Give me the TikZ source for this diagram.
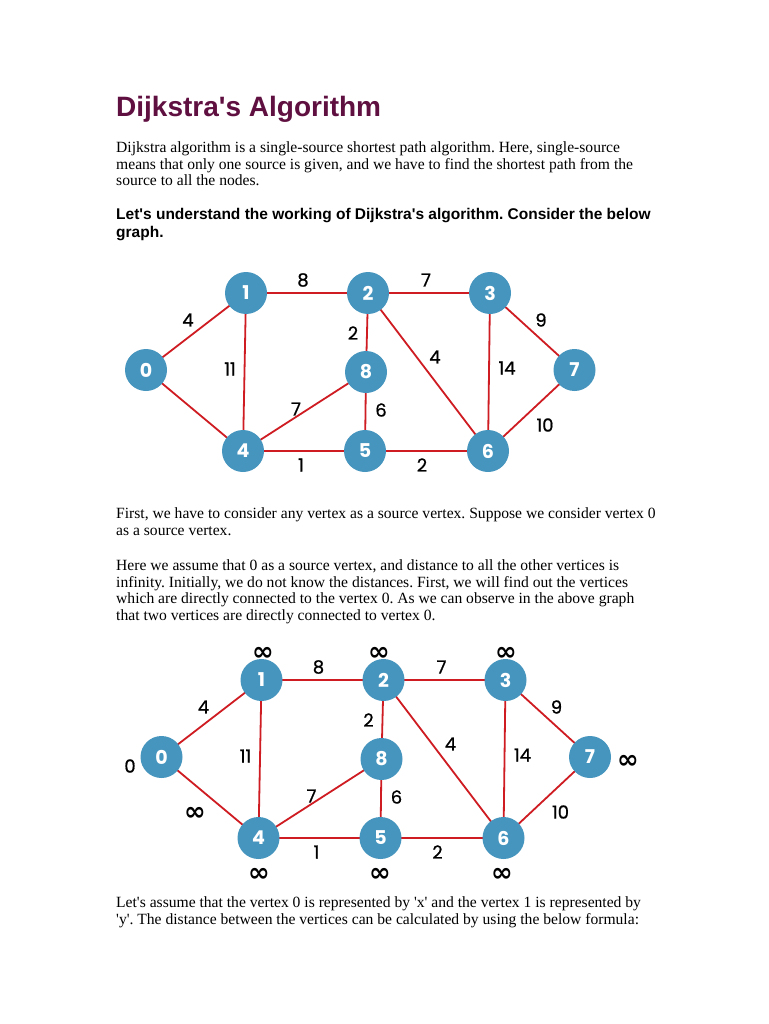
\documentclass[tikz,border=0pt]{standalone}
\usepackage{fontspec}
\setmainfont{Liberation Serif}
\newfontfamily\headfont{Liberation Sans}
\newfontfamily\grfont{Poppins}
\newfontfamily\grmed[FakeBold=0.8]{Poppins}
\newfontfamily\inffont{DejaVu Sans}
\definecolor{titlecol}{RGB}{95,15,64}
\definecolor{nodecol}{RGB}{70,149,190}
\definecolor{edgecol}{RGB}{206,28,34}
\newcommand{\aq}{\textquotesingle}
\tikzset{
  vtx/.style={circle,fill=nodecol,minimum size=42pt,inner sep=0pt,text=white,font=\grfont\bfseries\fontsize{19}{19}\selectfont},
  edge/.style={draw=edgecol,line width=1.8pt},
  wlab/.style={font=\grmed\fontsize{18}{18}\selectfont,inner sep=0pt},
  inflab/.style={font=\inffont\bfseries\fontsize{26}{26}\selectfont,inner sep=0pt},
  body/.style={anchor=base west,inner sep=0pt,font=\frenchspacing\fontsize{15.6}{16.7}\selectfont},
  sub/.style={anchor=base west,inner sep=0pt,font=\frenchspacing\headfont\bfseries\fontsize{15.5}{17}\selectfont},
}
\begin{document}
\begin{tikzpicture}[x=1pt,y=-1pt]
\useasboundingbox (0,0) rectangle (768,1024);
\fill[white] (0,0) rectangle (768,1024);
% title
\node[anchor=base west,inner sep=0pt,text=titlecol,font=\headfont\bfseries\fontsize{28}{28}\selectfont] (title) at (116,117) {Dijkstra\aq s Algorithm};
% paragraph 1
\node[body] (p1a) at (116,153) {Dijkstra algorithm is a single-source shortest path algorithm. Here, single-source};
\node[body] (p1b) at (116,169.5) {means that only one source is given, and we have to find the shortest path from the};
\node[body] (p1c) at (116,186) {source to all the nodes.};
% subheading
\node[sub] (h1a) at (116,220) {Let\aq s understand the working of Dijkstra\aq s algorithm. Consider the below};
\node[sub] (h1b) at (116,237) {graph.};
% graph 1
\foreach \n/\x/\y in {0/146/370,1/246/293,2/368/293,3/490/293,7/574.5/370,8/366/372,4/243/451,5/365/451,6/488/451}
  \coordinate (e\n) at (\x,\y);
\foreach \u/\v in {0/1,0/4,1/2,1/4,2/3,2/8,2/6,3/6,3/7,8/4,8/5,4/5,5/6,6/7}
  \draw[edge] (e\u) -- (e\v);
\foreach \n in {0,...,8}
  \node[vtx] (a\n) at (e\n) {\n};
\node[wlab] (a12) at (303,280) {8};
\node[wlab] (a23) at (426,280) {7};
\node[wlab] (a01) at (188,320) {4};
\node[wlab] (a37) at (541,320) {9};
\node[wlab] (a28) at (353,333) {2};
\node[wlab] (a26) at (435,357) {4};
\node[wlab] (a14) at (230,369) {11};
\node[wlab] (a36) at (507,368) {14};
\node[wlab] (a48) at (296,409) {7};
\node[wlab] (a58) at (381,410) {6};
\node[wlab] (a67) at (545,425) {10};
\node[wlab] (a45) at (301,465) {1};
\node[wlab] (a56) at (422,465) {2};
% paragraph 2
\node[body] (p2a) at (116,518) {First, we have to consider any vertex as a source vertex. Suppose we consider vertex 0};
\node[body] (p2b) at (116,535) {as a source vertex.};
% paragraph 3
\node[body] (p3a) at (116,570) {Here we assume that 0 as a source vertex, and distance to all the other vertices is};
\node[body] (p3b) at (116,587) {infinity. Initially, we do not know the distances. First, we will find out the vertices};
\node[body] (p3c) at (116,603.5) {which are directly connected to the vertex 0. As we can observe in the above graph};
\node[body] (p3d) at (116,620) {that two vertices are directly connected to vertex 0.};
% graph 2
\begin{scope}[shift={(15.5,387)}]
\foreach \n/\x/\y in {0/146/370,1/246/293,2/368/293,3/490/293,7/574.5/370,8/366/372,4/243/451,5/365/451,6/488/451}
  \coordinate (c\n) at (\x,\y);
\end{scope}
\foreach \u/\v in {0/1,0/4,1/2,1/4,2/3,2/8,2/6,3/6,3/7,8/4,8/5,4/5,5/6,6/7}
  \draw[edge] (c\u) -- (c\v);
\foreach \n in {0,...,8}
  \node[vtx] (b\n) at (c\n) {\n};
\begin{scope}[shift={(15.5,387)}]
\node[wlab] (b12) at (303,280) {8};
\node[wlab] (b23) at (426,280) {7};
\node[wlab] (b01) at (188,320) {4};
\node[wlab] (b37) at (541,320) {9};
\node[wlab] (b28) at (353,333) {2};
\node[wlab] (b26) at (435,357) {4};
\node[wlab] (b14) at (230,369) {11};
\node[wlab] (b36) at (507,368) {14};
\node[wlab] (b48) at (296,409) {7};
\node[wlab] (b58) at (381,410) {6};
\node[wlab] (b67) at (545,425) {10};
\node[wlab] (b45) at (301,465) {1};
\node[wlab] (b56) at (422,465) {2};
\end{scope}
\node[wlab] (d0) at (130,766) {0};
\node[inflab] (d1) at (263,654) {∞};
\node[inflab] (d2) at (379,654) {∞};
\node[inflab] (d3) at (506,654) {∞};
\node[inflab] (d7) at (628,761.5) {∞};
\node[inflab] (d04) at (195,814) {∞};
\node[inflab] (d4) at (259,874.5) {∞};
\node[inflab] (d5) at (380,874.5) {∞};
\node[inflab] (d6) at (502,874.5) {∞};
% paragraph 4
\node[body] (p4a) at (116,907) {Let\aq s assume that the vertex 0 is represented by \aq x\aq\ and the vertex 1 is represented by};
\node[body] (p4b) at (116,924) {\aq y\aq . The distance between the vertices can be calculated by using the below formula:};
\end{tikzpicture}
\end{document}
